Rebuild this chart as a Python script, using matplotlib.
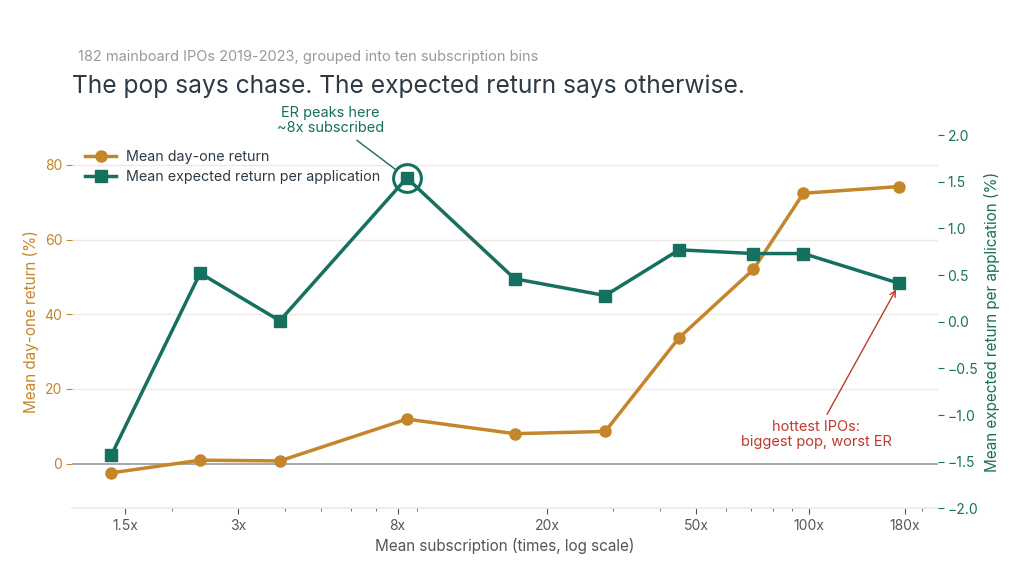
import matplotlib
matplotlib.use("Agg")
import matplotlib.pyplot as plt
from matplotlib.ticker import FixedLocator, NullFormatter, LogLocator

plt.rcParams['font.family'] = ['Inter', 'DejaVu Sans']

# ten subscription bins
subscription = [1.38, 2.38, 3.88, 8.46, 16.4, 28.6, 45, 71, 96.5, 174]
day_one_return = [-2.5, 0.9, 0.7, 11.9, 8.0, 8.6, 33.7, 52.0, 72.4, 74.2]
expected_return = [-1.43, 0.52, 0.01, 1.54, 0.46, 0.28, 0.77, 0.73, 0.73, 0.41]

x_ticks = [1.5, 3, 8, 20, 50, 100, 180]
x_tick_labels = ['1.5x', '3x', '8x', '20x', '50x', '100x', '180x']

orange = '#C4862A'
teal = '#16705F'
red = '#C0392B'
grid_c = '#ECEAE4'
text_c = '#2D3A45'

fig = plt.figure(figsize=(10.24, 5.77), dpi=100)
ax = fig.add_axes([0.0703, 0.119, 0.8454, 0.647])
ax2 = ax.twinx()

ax.set_xscale('log')
ax.set_xlim(1.084, 220)
ax.set_ylim(-12, 88)
ax2.set_ylim(-2, 2)

ax.set_yticks([0, 20, 40, 60, 80])
ax2.set_yticks([-2.0, -1.5, -1.0, -0.5, 0.0, 0.5, 1.0, 1.5, 2.0])
ax2.set_yticklabels([f'{v:.1f}'.replace('-', '\u2212') for v in ax2.get_yticks()])

ax.xaxis.set_major_locator(FixedLocator(x_ticks))
ax.set_xticklabels(x_tick_labels)
ax.xaxis.set_minor_locator(LogLocator(subs=range(2, 10)))
ax.xaxis.set_minor_formatter(NullFormatter())

for a in (ax, ax2):
    for s in a.spines.values():
        s.set_visible(False)
ax.spines['bottom'].set_visible(True)
ax.spines['bottom'].set_color(grid_c)
ax.spines['bottom'].set_linewidth(1.2)

for v in [20, 40, 60, 80]:
    ax.axhline(v, color=grid_c, lw=1, zorder=0)
ax.axhline(0, color='#8A939B', lw=1.1, zorder=1)

ax.tick_params(axis='y', colors=orange, labelsize=10, length=4, width=0.8, pad=3)
ax2.tick_params(axis='y', colors=teal, labelsize=10, length=4, width=0.8, pad=3)
ax.tick_params(axis='x', which='major', colors='#555555', labelcolor='#555555', labelsize=10, length=4, width=0.8)
ax.tick_params(axis='x', which='minor', colors='#555555', length=2.5, width=0.6)

l1, = ax.plot(subscription, day_one_return, color=orange, lw=2.5, marker='o', ms=8,
              label='Mean day-one return', zorder=3)
l2, = ax2.plot(subscription, expected_return, color=teal, lw=2.5, marker='s', ms=8,
               label='Mean expected return per application', zorder=3)

ax.set_ylabel('Mean day-one return (%)', color=orange, fontsize=11)
ax2.set_ylabel('Mean expected return per application (%)', color=teal, fontsize=11)
ax.set_xlabel('Mean subscription (times, log scale)', color='#555555', fontsize=11, labelpad=4)

# peak highlight
peak = expected_return.index(max(expected_return))
ax2.plot(subscription[peak], expected_return[peak], marker='o', ms=20, mfc='none',
         mec=teal, mew=2.2, zorder=4)
ax2.annotate('ER peaks here\n~8x subscribed', xy=(subscription[peak], expected_return[peak]),
             xytext=(-55, 31), textcoords='offset points', ha='center', va='bottom',
             color=teal, fontsize=10.5, linespacing=1.1,
             arrowprops=dict(arrowstyle='-', color=teal, lw=1, shrinkA=3, shrinkB=9))

ax2.annotate('hottest IPOs:\nbiggest pop, worst ER', xy=(subscription[-1], expected_return[-1]),
             xytext=(-60, -98), textcoords='offset points', ha='center', va='top',
             color=red, fontsize=10.5, linespacing=1.1,
             arrowprops=dict(arrowstyle='->', color=red, lw=1, shrinkA=2, shrinkB=5))

leg = ax.legend(handles=[l1, l2], loc='upper left', bbox_to_anchor=(0.0, 0.995),
                frameon=False, fontsize=10.3, handlelength=2.2, handletextpad=0.7,
                labelspacing=0.45, labelcolor=text_c)

fig.text(0.0762, 0.902, '182 mainboard IPOs 2019-2023, grouped into ten subscription bins',
         fontsize=10.5, color='#999999', va='center')
fig.text(0.0703, 0.851, 'The pop says chase. The expected return says otherwise.',
         fontsize=17.7, color=text_c, va='center')

fig.savefig('out.png', dpi=100, facecolor='white')
